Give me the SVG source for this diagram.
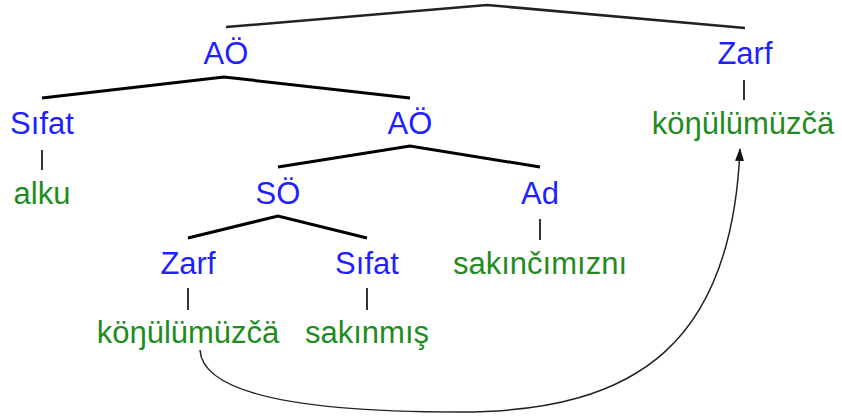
<svg xmlns="http://www.w3.org/2000/svg" width="842" height="419" viewBox="0 0 842 419">
<style>
text{font-family:"Liberation Sans",Arial,sans-serif;font-size:31px;text-anchor:middle}
.c{fill:#1f1fff}
.w{fill:#1e8c1e}
.br{fill:none;stroke:#000;stroke-width:3;stroke-linejoin:miter}
.top{fill:none;stroke:#222;stroke-width:2.5}
.v{stroke:#000;stroke-width:1.6}
.arc{fill:none;stroke:#222;stroke-width:1.5}
</style>
<defs>
<marker id="ah" markerWidth="13" markerHeight="10" refX="12" refY="5" orient="auto" markerUnits="userSpaceOnUse">
<path d="M0,0.5 L13,5 L0,9.5 z" fill="#111"/>
</marker>
</defs>
<rect width="842" height="419" fill="#fff"/>
<g id="connectors">
<polyline class="top" points="226,27 487,5 745,28"/>
<polyline class="br" points="42,98 224,77 410,98"/>
<polyline class="br" points="278,167 410,146 540,167"/>
<polyline class="br" points="188,238 278,216 367,238"/>
<line class="v" x1="744" y1="80" x2="744" y2="100"/>
<line class="v" x1="42" y1="150" x2="42" y2="170"/>
<line class="v" x1="540" y1="219" x2="540" y2="240"/>
<line class="v" x1="188" y1="288" x2="188" y2="310"/>
<line class="v" x1="367" y1="288" x2="367" y2="310"/>
<path class="arc" d="M200,350 C203,400 330,412 460,412 C640,412 732,340 740,149" marker-end="url(#ah)"/>
</g>
<g id="n-ao1"><text class="c" x="226" y="64">AÖ</text></g>
<g id="n-zarf1"><text class="c" x="745" y="64">Zarf</text></g>
<g id="n-konul1"><text class="w" x="743" y="134">köŋülümüzčä</text></g>
<g id="n-sifat1"><text class="c" x="42" y="134">Sıfat</text></g>
<g id="n-ao2"><text class="c" x="410" y="134">AÖ</text></g>
<g id="n-alku"><text class="w" x="42" y="204">alku</text></g>
<g id="n-so"><text class="c" x="278" y="204">SÖ</text></g>
<g id="n-ad"><text class="c" x="540" y="204">Ad</text></g>
<g id="n-zarf2"><text class="c" x="188" y="274">Zarf</text></g>
<g id="n-sifat2"><text class="c" x="367" y="274">Sıfat</text></g>
<g id="n-sakincimizni"><text class="w" x="540" y="274">sakınčımıznı</text></g>
<g id="n-konul2"><text class="w" x="188" y="343">köŋülümüzčä</text></g>
<g id="n-sakinmis"><text class="w" x="367" y="343">sakınmış</text></g>
</svg>
